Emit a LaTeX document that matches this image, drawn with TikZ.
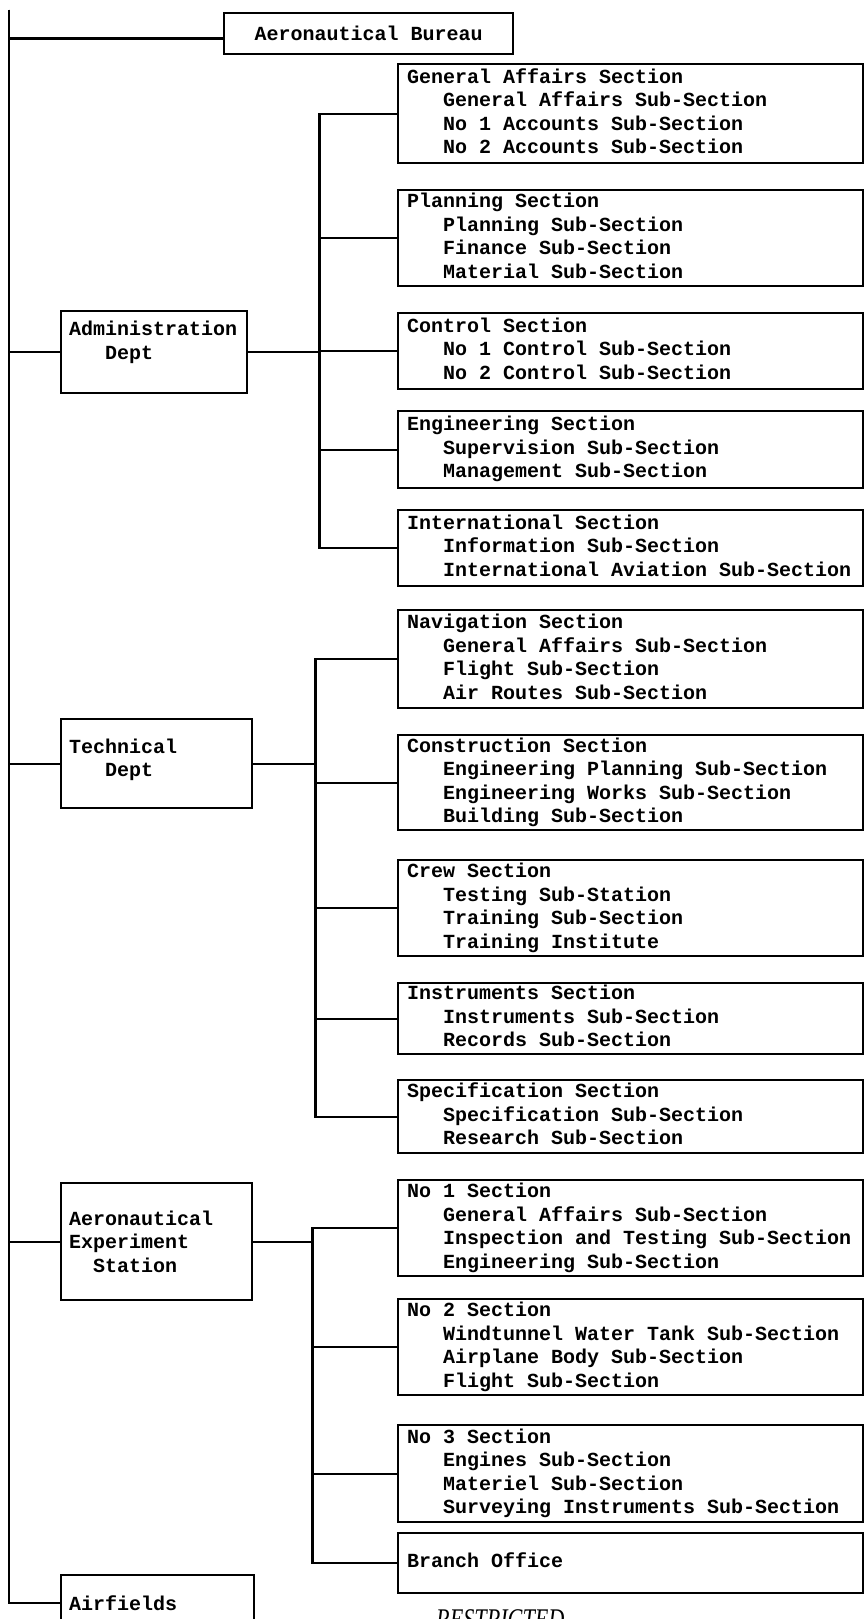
\documentclass[tikz,border=0pt]{standalone}
\usepackage{fontspec}
\setmonofont{Liberation Mono}
\newfontfamily\stampfont{Liberation Serif}
\usepackage{tikz}

\newcommand{\subind}{\hspace*{36pt}}
\newcommand{\fixspace}{\spaceskip=12pt plus 0pt minus 0pt\xspaceskip=12pt plus 0pt minus 0pt\relax}

\begin{document}
\begin{tikzpicture}[x=1pt,y=-1pt]
        \tikzset{line style/.style={line width=2.4pt, color=black}}
        \tikzset{type font/.style={font=\fontsize{20}{23.5}\selectfont\ttfamily\bfseries}}
        \tikzset{sec style/.style={draw, line style, rectangle, anchor=north west, align=left, type font, inner xsep=9pt, inner ysep=0pt, minimum width=465pt, text width=447pt, execute at begin node=\fixspace\strut, execute at end node=\strut}}
        \tikzset{dept style/.style={draw, line style, rectangle, anchor=north west, align=left, type font, inner xsep=8pt, inner ysep=0pt, execute at begin node=\fixspace}}

        \useasboundingbox (0,0) rectangle (865,1619);
        \clip (0,0) rectangle (865,1619);

        % bureau and departments
        \node[dept style, align=center, minimum width=289pt, minimum height=41pt] (bureau) at (223,12) {Aeronautical Bureau};
        \node[dept style, minimum width=186pt, minimum height=82pt, text width=170pt] (admin) at (60,310) {Administration\\\subind Dept\\\mbox{}};
        \node[dept style, minimum width=191pt, minimum height=89pt, text width=175pt] (tech) at (60,718) {Technical\\\subind Dept\\[-12pt]\mbox{}};
        \node[dept style, minimum width=191pt, minimum height=117pt, text width=175pt] (aes) at (60,1182) {Aeronautical\\Experiment\\\hspace*{24pt}Station};
        \node[dept style, minimum width=193pt, minimum height=56pt, text width=177pt] (airf) at (60,1574) {Airfields};

        % sections of the administration dept
        \node[sec style, minimum height=99pt] (ga) at (397,63) {General Affairs Section\\\subind General Affairs Sub-Section\\\subind No 1 Accounts Sub-Section\\\subind No 2 Accounts Sub-Section};
        \node[sec style, minimum height=96pt] (plan) at (397,189) {Planning Section\\\subind Planning Sub-Section\\\subind Finance Sub-Section\\\subind Material Sub-Section};
        \node[sec style, minimum height=76pt] (ctrl) at (397,312) {Control Section\\\subind No 1 Control Sub-Section\\\subind No 2 Control Sub-Section};
        \node[sec style, minimum height=77pt] (eng) at (397,410) {Engineering Section\\\subind Supervision Sub-Section\\\subind Management Sub-Section};
        \node[sec style, minimum height=76pt] (intl) at (397,509) {International Section\\\subind Information Sub-Section\\\subind International Aviation Sub-Section};

        % sections of the technical dept
        \node[sec style, minimum height=98pt] (nav) at (397,609) {Navigation Section\\\subind General Affairs Sub-Section\\\subind Flight Sub-Section\\\subind Air Routes Sub-Section};
        \node[sec style, minimum height=95pt] (constr) at (397,734) {Construction Section\\\subind Engineering Planning Sub-Section\\\subind Engineering Works Sub-Section\\\subind Building Sub-Section};
        \node[sec style, minimum height=96pt] (crew) at (397,859) {Crew Section\\\subind Testing Sub-Station\\\subind Training Sub-Section\\\subind Training Institute};
        \node[sec style, minimum height=71pt] (instr) at (397,982) {Instruments Section\\\subind Instruments Sub-Section\\\subind Records Sub-Section};
        \node[sec style, minimum height=73pt] (spec) at (397,1079) {Specification Section\\\subind Specification Sub-Section\\\subind Research Sub-Section};

        % sections of the experiment station
        \node[sec style, minimum height=96pt] (nofirst) at (397,1179) {No 1 Section\\\subind General Affairs Sub-Section\\\subind Inspection and Testing Sub-Section\\\subind Engineering Sub-Section};
        \node[sec style, minimum height=96pt] (nosecond) at (397,1298) {No 2 Section\\\subind Windtunnel Water Tank Sub-Section\\\subind Airplane Body Sub-Section\\\subind Flight Sub-Section};
        \node[sec style, minimum height=97pt] (nothird) at (397,1424) {No 3 Section\\\subind Engines Sub-Section\\\subind Materiel Sub-Section\\\subind Surveying Instruments Sub-Section};
        \node[sec style, minimum height=60pt] (branch) at (397,1532) {Branch Office};

        \node[font=\fontsize{30}{32}\selectfont\stampfont\itshape, anchor=north west, inner sep=0pt] (stamp) at (436,1609) {\scalebox{0.74}[1]{RESTRICTED}};

        % connectors
        \coordinate (mtop) at (9,10);
        \draw[line style] (mtop) |- ([yshift=-5pt]bureau.west);
        \foreach \d in {admin,tech,aes,airf}
            \draw[line style] (mtop) |- (\d.west);

        \coordinate (abus) at ([xshift=71pt]admin.east);
        \coordinate (tbus) at ([xshift=62pt]tech.east);
        \coordinate (ebus) at ([xshift=59pt]aes.east);
        \draw[line style] (admin.east) -- (abus);
        \draw[line style] (tech.east) -- (tbus);
        \draw[line style] (aes.east) -- (ebus);
        \foreach \s in {ga,plan,ctrl,eng,intl}
            \draw[line style] (abus) |- (\s.west);
        \foreach \s in {nav,constr,crew,instr,spec}
            \draw[line style] (tbus) |- (\s.west);
        \foreach \s in {nofirst,nosecond,nothird,branch}
            \draw[line style] (ebus) |- (\s.west);
\end{tikzpicture}
\end{document}
